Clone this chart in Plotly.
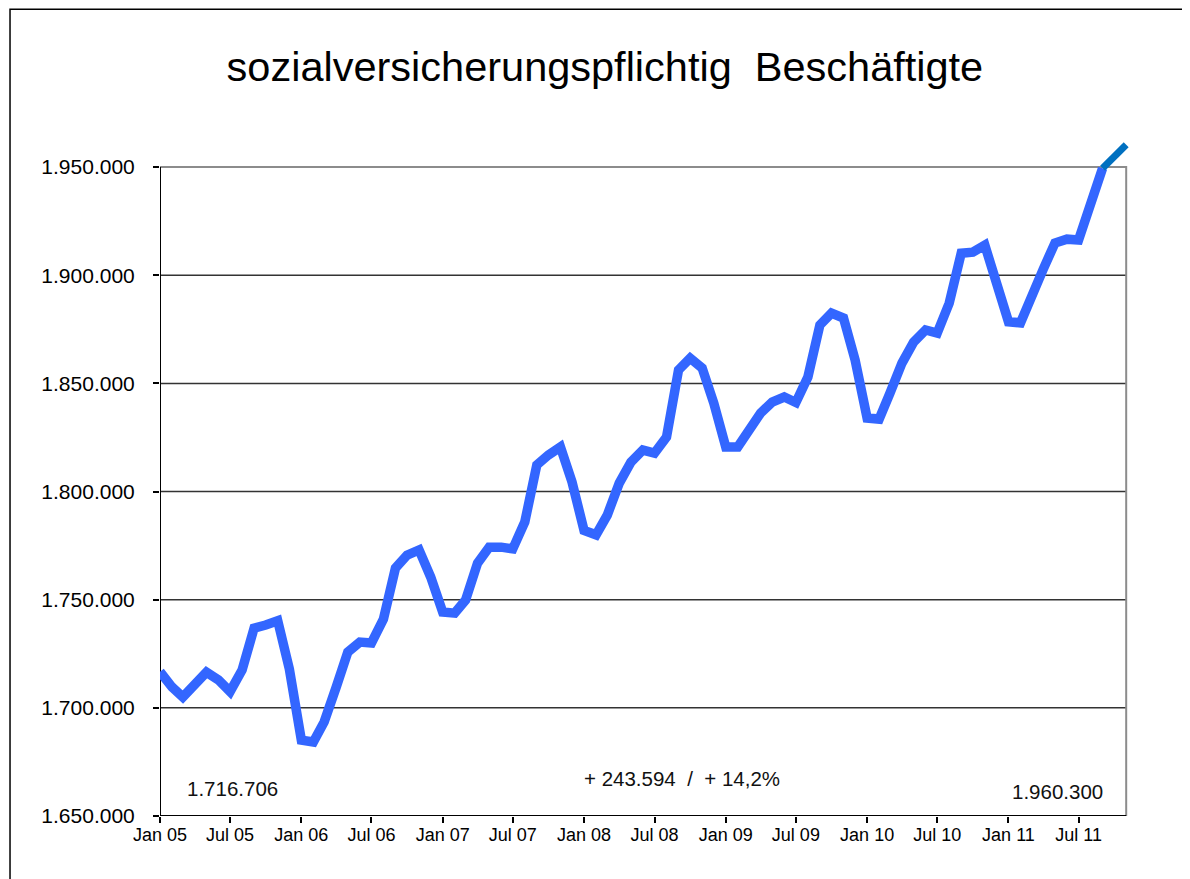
import pandas as pd
import plotly.graph_objects as go

# ---- data ----
start_month = "2005-01-01"
employees = [
    # 2005
    1716706, 1709600, 1705000, 1711500, 1716500, 1712900, 1707500, 1717500, 1736900, 1738300, 1740300, 1718000,
    # 2006
    1685100, 1684200, 1693500, 1709600, 1725800, 1730400, 1730000, 1741000, 1764600, 1770600, 1773000, 1760500,
    # 2007
    1744300, 1743800, 1749800, 1766900, 1774300, 1774300, 1773500, 1785900, 1812300, 1816900, 1820600, 1804400,
    # 2008
    1782000, 1780000, 1789100, 1803900, 1813600, 1819200, 1817800, 1825200, 1856200, 1861700, 1857100, 1840900,
    # 2009
    1820600, 1820600, 1827500, 1836300, 1841400, 1843700, 1841200, 1852900, 1877000, 1882500, 1880200, 1860800,
    # 2010
    1834000, 1833500, 1845500, 1859400, 1869100, 1874700, 1873300, 1887100, 1910200, 1910700, 1913900, 1897800,
    # 2011
    1878500, 1878000, 1890800, 1902900, 1914900, 1916700, 1916300, 1931500, 1949500,
]
latest_dates = ["2011-09-01", "2011-11-01"]
latest_values = [1949500, 1960300]

tick_dates = ["2005-01-01", "2005-07-01", "2006-01-01", "2006-07-01", "2007-01-01", "2007-07-01",
              "2008-01-01", "2008-07-01", "2009-01-01", "2009-07-01", "2010-01-01", "2010-07-01",
              "2011-01-01", "2011-07-01"]
tick_labels = ["Jan 05", "Jul 05", "Jan 06", "Jul 06", "Jan 07", "Jul 07", "Jan 08", "Jul 08",
               "Jan 09", "Jul 09", "Jan 10", "Jul 10", "Jan 11", "Jul 11"]
y_ticks = [1650000, 1700000, 1750000, 1800000, 1850000, 1900000, 1950000]

title_text = "sozialversicherungspflichtig&nbsp; Beschäftigte"

months = pd.date_range(start_month, periods=len(employees), freq="MS")


def de(n):
    return f"{n:,}".replace(",", ".")


first_val = employees[0]
last_val = latest_values[-1]
diff = last_val - first_val
pct = diff / first_val * 100
change_text = f"+ {de(diff)}&nbsp; /&nbsp; + " + f"{pct:.1f}".replace(".", ",") + "%"

FONT = "Liberation Sans, Arial, sans-serif"
x_start, x_end = "2005-01-01", "2011-11-01"
y_lo, y_hi = y_ticks[0], y_ticks[-1]

fig = go.Figure()
fig.add_trace(go.Scatter(x=months, y=employees, mode="lines",
                         line=dict(color="#3366FF", width=9.5), showlegend=False))
fig.add_trace(go.Scatter(x=latest_dates, y=latest_values, mode="lines",
                         line=dict(color="#0070C0", width=7), showlegend=False))

# horizontal gridlines limited to the framed plot area
for yv in y_ticks[1:-1]:
    fig.add_shape(type="line", xref="x", yref="y", x0=x_start, x1=x_end, y0=yv, y1=yv,
                  line=dict(color="#333333", width=1.5), layer="between")
# plot frame (gray), axis lines (black)
fig.add_shape(type="rect", xref="x", yref="y", x0=x_start, x1=x_end, y0=y_lo, y1=y_hi,
              line=dict(color="#8c8c8c", width=2), layer="between")
fig.add_shape(type="line", xref="x", yref="y", x0=x_start, x1=x_start, y0=y_lo, y1=y_hi,
              line=dict(color="black", width=2), layer="between")
fig.add_shape(type="line", xref="x", yref="y", x0=x_start, x1=x_end, y0=y_lo, y1=y_lo,
              line=dict(color="black", width=2), layer="between")
# outer border of the chart
fig.add_shape(type="rect", xref="paper", yref="paper", x0=-0.1543, x1=1.0576, y0=-0.0975, y1=1.1915,
              line=dict(color="black", width=1.5), layer="above")

ann_font = dict(family=FONT, size=20.5, color="#111")
fig.add_annotation(xref="paper", yref="paper", x=0.0257, y=0.040, xanchor="left", yanchor="middle",
                   text=de(first_val), showarrow=False, font=ann_font)
fig.add_annotation(xref="paper", yref="paper", x=0.537, y=0.056, xanchor="center", yanchor="middle",
                   text=change_text, showarrow=False, font=ann_font)
fig.add_annotation(xref="paper", yref="paper", x=0.972, y=0.0355, xanchor="right", yanchor="middle",
                   text=de(last_val), showarrow=False, font=ann_font)

fig.update_layout(
    width=1182, height=871,
    margin=dict(l=152, r=58, t=131, b=63),
    paper_bgcolor="white", plot_bgcolor="white",
    separators=",.",
    font=dict(family=FONT, color="black"),
    title=dict(text=title_text, xref="container", yref="container", x=0.505, y=0.933,
               xanchor="center", yanchor="middle", font=dict(family=FONT, size=41.5, color="black")),
    xaxis=dict(type="date", range=["2005-01-01", "2011-11-16"], tickvals=tick_dates, ticktext=tick_labels,
               showgrid=False, showline=False, zeroline=False, ticks="outside", ticklen=6,
               tickwidth=1.5, tickcolor="black", ticklabelstandoff=-4,
               tickfont=dict(family=FONT, size=18, color="black")),
    yaxis=dict(range=[1650000, 1963000], tickvals=y_ticks, tickformat=",d",
               showgrid=False, showline=False, zeroline=False,
               ticks="outside", ticklen=6, tickwidth=1.5, tickcolor="black", ticklabelstandoff=14,
               tickfont=dict(family=FONT, size=21, color="black")),
)

fig.write_html("out.html")
